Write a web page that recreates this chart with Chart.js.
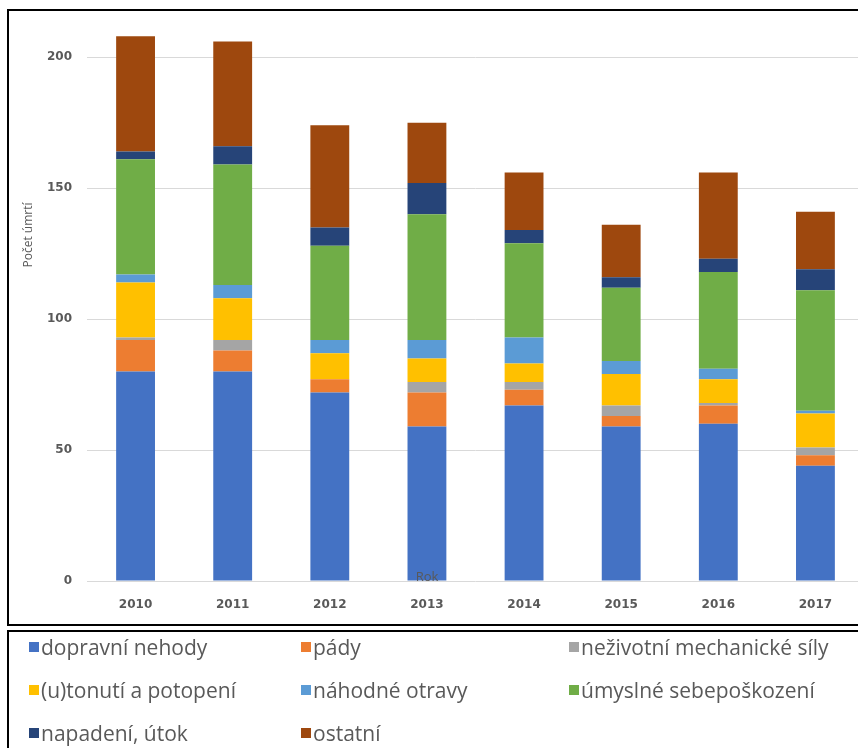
<!DOCTYPE html>
<html lang="cs">
<head>
<meta charset="utf-8">
<title>Počet úmrtí podle příčin</title>
<script src="https://cdn.jsdelivr.net/npm/chart.js@4.4.1/dist/chart.umd.min.js"></script>
<style>
  html, body { margin: 0; padding: 0; background: #fff; width: 858px; height: 748px; overflow: hidden; position: relative; }
  #wrap { position: absolute; left: 0; top: 0; width: 866px; height: 640px; }
  .box { position: absolute; border: 2px solid #000; box-sizing: border-box; pointer-events: none; }
  #frame { left: 7px; top: 9px; width: 900px; height: 617px; }
  #legendBox { left: 7px; top: 630px; width: 900px; height: 200px; }
  #legend { position: absolute; left: 0; top: 0; width: 858px; height: 748px; pointer-events: none; }
  .item { position: absolute; display: flex; align-items: center; height: 28px; line-height: 28px;
          font-family: "Open Sans", sans-serif; font-size: 21px; color: #595959; white-space: nowrap; }
  .sw { width: 10px; height: 10px; margin-right: 2px; flex: none; }
</style>
</head>
<body>
<div id="wrap"><canvas id="chart" width="866" height="640"></canvas></div>
<div id="frame" class="box"></div>
<div id="legendBox" class="box"></div>
<div id="legend"></div>
<script>
// Years on the category axis
const years = ['2010', '2011', '2012', '2013', '2014', '2015', '2016', '2017'];

// Deaths per year by external cause
const dopravniNehody      = [80, 80, 72, 59, 67, 59, 60, 44];
const pady                = [12,  8,  5, 13,  6,  4,  7,  4];
const mechanickeSily      = [ 1,  4,  0,  4,  3,  4,  1,  3];
const tonuti              = [21, 16, 10,  9,  7, 12,  9, 13];
const otravy              = [ 3,  5,  5,  7, 10,  5,  4,  1];
const sebeposkozeni       = [44, 46, 36, 48, 36, 28, 37, 46];
const napadeni            = [ 3,  7,  7, 12,  5,  4,  5,  8];
const ostatni             = [44, 40, 39, 23, 22, 20, 33, 22];

// Series names, in stacking (bottom to top) and legend order
const seriesNames = [
  'dopravní nehody', 'pády', 'neživotní mechanické síly',
  '(u)tonutí a potopení', 'náhodné otravy', 'úmyslné sebepoškození',
  'napadení, útok', 'ostatní'
];
const seriesValues = [dopravniNehody, pady, mechanickeSily, tonuti, otravy, sebeposkozeni, napadeni, ostatni];

// Value axis ticks
const yTicks = [0, 50, 100, 150, 200];

// Office palette
const seriesColors = ['#4472C4', '#ED7D31', '#A5A5A5', '#FFC000', '#5B9BD5', '#70AD47', '#264478', '#9E480E'];

const TEXT = '#595959';
const GRID = '#D9D9D9';

// Axis titles drawn at their own spots
const axisTitles = {
  id: 'axisTitles',
  afterDatasetsDraw(chart) {
    const ctx = chart.ctx;
    ctx.save();
    ctx.fillStyle = TEXT;
    ctx.textAlign = 'center';
    ctx.textBaseline = 'middle';
    ctx.font = '12px "Open Sans", sans-serif';
    ctx.save();
    ctx.translate(29, 235);
    ctx.rotate(-Math.PI / 2);
    ctx.fillText('Počet úmrtí', 0, 0);
    ctx.restore();
    ctx.font = '13px "Open Sans", sans-serif';
    ctx.fillText('Rok', 427, 577);
    ctx.restore();
  }
};

const chart = new Chart(document.getElementById('chart'), {
  type: 'bar',
  data: {
    labels: years,
    datasets: seriesNames.map((name, i) => ({
      label: name,
      data: seriesValues[i],
      backgroundColor: seriesColors[i],
      borderWidth: 0,
      categoryPercentage: 1,
      barPercentage: 0.4
    }))
  },
  options: {
    responsive: false,
    animation: false,
    devicePixelRatio: 1,
    layout: { padding: { top: 31, right: 2, left: 0, bottom: 0 } },
    plugins: {
      legend: { display: false },
      tooltip: { enabled: false },
      title: { display: false }
    },
    scales: {
      x: {
        stacked: true,
        grid: { display: false, drawTicks: false },
        border: { display: false },
        ticks: {
          color: TEXT,
          padding: 17,
          maxRotation: 0,
          font: { family: '"DejaVu Sans", sans-serif', size: 12, weight: 'bold' }
        },
        afterFit(scale) { scale.height = 59; }
      },
      y: {
        stacked: true,
        min: 0,
        max: 210,
        grid: { color: GRID, lineWidth: 1, drawTicks: false },
        border: { display: false },
        ticks: {
          color: TEXT,
          padding: 15,
          stepSize: 50,
          includeBounds: false,
          font: { family: '"DejaVu Sans", sans-serif', size: 12, weight: 'bold' }
        },
        afterBuildTicks(scale) { scale.ticks = yTicks.map(v => ({ value: v })); },
        afterFit(scale) { scale.width = 87; }
      }
    }
  },
  plugins: [axisTitles]
});

// Legend in three columns built from the chart's datasets
const legendCols = [29, 301, 569];
const legendRows = [633, 676, 719];
const legendEl = document.getElementById('legend');
chart.data.datasets.forEach((ds, i) => {
  const item = document.createElement('div');
  item.className = 'item';
  item.style.left = legendCols[i % 3] + 'px';
  item.style.top = legendRows[Math.floor(i / 3)] + 'px';
  const sw = document.createElement('span');
  sw.className = 'sw';
  sw.style.background = ds.backgroundColor;
  const txt = document.createElement('span');
  txt.textContent = ds.label;
  item.appendChild(sw);
  item.appendChild(txt);
  legendEl.appendChild(item);
});
</script>
</body>
</html>
